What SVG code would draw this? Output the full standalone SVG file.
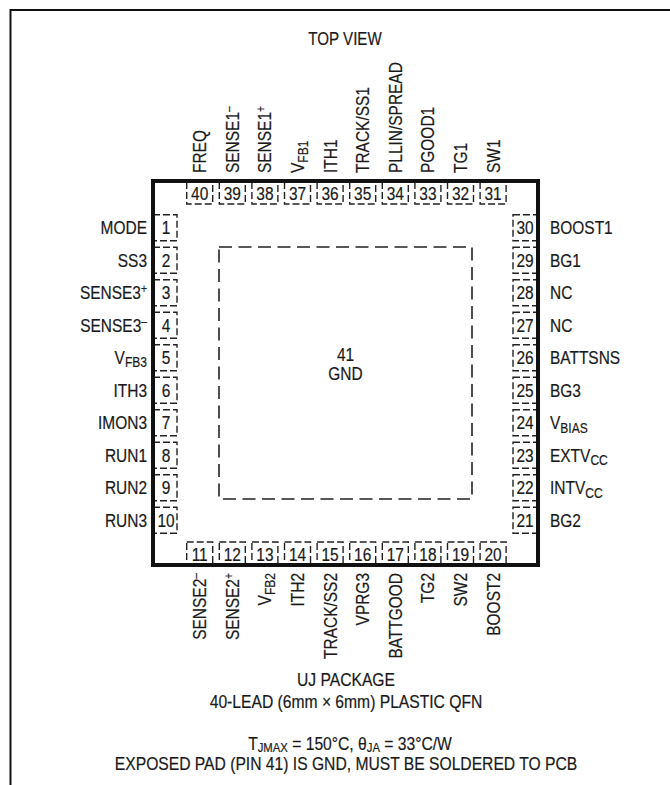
<svg xmlns="http://www.w3.org/2000/svg" width="670" height="785" viewBox="0 0 670 785">
<style>
text{font-family:"Liberation Sans",Arial,Helvetica,sans-serif;fill:#1a1a1a;font-size:18px;stroke:#1a1a1a;stroke-width:0.2}
.num{text-anchor:middle}
.end{text-anchor:end}
.mid{text-anchor:middle}
.box{fill:none;stroke:#222;stroke-width:1.4;stroke-dasharray:7 3}
.pad{fill:none;stroke:#222;stroke-width:1.6;stroke-dasharray:13 6.5}
.chip{fill:none;stroke:#111;stroke-width:4}
.frame{fill:none;stroke:#111;stroke-width:2}
.sub{font-size:14px}
.nsub{font-size:13px}
.sup{font-size:12px}
</style>
<rect width="670" height="785" fill="#fff"/>
<path class="frame" d="M10.5,785 V10 H670"/>
<text class="mid" transform="translate(345,45) scale(0.84,1)">TOP VIEW</text>

<g id="pad">
<rect class="pad" x="219" y="247" width="253" height="252"/>
<text class="mid" transform="translate(345.5,360.5) scale(0.86,1)">41</text>
<text class="mid" transform="translate(345.5,380) scale(0.86,1)">GND</text>
</g>

<!-- top pins -->
<g id="pin40"><rect class="box" x="186.7" y="181" width="26" height="23"/><text class="num" transform="translate(199.7,199.5) scale(0.86,1)">40</text><text transform="translate(206.2,173) rotate(-90) scale(0.86,1)">FREQ</text></g>
<g id="pin39"><rect class="box" x="219.3" y="181" width="26" height="23"/><text class="num" transform="translate(232.3,199.5) scale(0.86,1)">39</text><text transform="translate(238.8,173) rotate(-90) scale(0.86,1)">SENSE1<tspan class="sup" dy="-6">–</tspan></text></g>
<g id="pin38"><rect class="box" x="251.9" y="181" width="26" height="23"/><text class="num" transform="translate(264.9,199.5) scale(0.86,1)">38</text><text transform="translate(271.4,173) rotate(-90) scale(0.86,1)">SENSE1<tspan class="sup" dy="-6">+</tspan></text></g>
<g id="pin37"><rect class="box" x="284.5" y="181" width="26" height="23"/><text class="num" transform="translate(297.5,199.5) scale(0.86,1)">37</text><text transform="translate(304,173) rotate(-90) scale(0.86,1)">V<tspan class="sub" dy="3.5">FB1</tspan></text></g>
<g id="pin36"><rect class="box" x="317.1" y="181" width="26" height="23"/><text class="num" transform="translate(330.1,199.5) scale(0.86,1)">36</text><text transform="translate(336.6,173) rotate(-90) scale(0.86,1)">ITH1</text></g>
<g id="pin35"><rect class="box" x="349.7" y="181" width="26" height="23"/><text class="num" transform="translate(362.7,199.5) scale(0.86,1)">35</text><text transform="translate(369.2,173) rotate(-90) scale(0.86,1)">TRACK/SS1</text></g>
<g id="pin34"><rect class="box" x="382.3" y="181" width="26" height="23"/><text class="num" transform="translate(395.3,199.5) scale(0.86,1)">34</text><text transform="translate(401.8,173) rotate(-90) scale(0.86,1)">PLLIN/SPREAD</text></g>
<g id="pin33"><rect class="box" x="414.9" y="181" width="26" height="23"/><text class="num" transform="translate(427.9,199.5) scale(0.86,1)">33</text><text transform="translate(434.4,173) rotate(-90) scale(0.86,1)">PGOOD1</text></g>
<g id="pin32"><rect class="box" x="447.5" y="181" width="26" height="23"/><text class="num" transform="translate(460.5,199.5) scale(0.86,1)">32</text><text transform="translate(467,173) rotate(-90) scale(0.86,1)">TG1</text></g>
<g id="pin31"><rect class="box" x="480.1" y="181" width="26" height="23"/><text class="num" transform="translate(493.1,199.5) scale(0.86,1)">31</text><text transform="translate(499.6,173) rotate(-90) scale(0.86,1)">SW1</text></g>

<!-- left pins -->
<g id="pin1"><rect class="box" x="153" y="214.8" width="24" height="26"/><text class="num" transform="translate(166,234.3) scale(0.86,1)">1</text><text class="end" transform="translate(147,234.3) scale(0.86,1)">MODE</text></g>
<g id="pin2"><rect class="box" x="153" y="247.3" width="24" height="26"/><text class="num" transform="translate(166,266.8) scale(0.86,1)">2</text><text class="end" transform="translate(147,266.8) scale(0.86,1)">SS3</text></g>
<g id="pin3"><rect class="box" x="153" y="279.8" width="24" height="26"/><text class="num" transform="translate(166,299.3) scale(0.86,1)">3</text><text class="end" transform="translate(147,299.3) scale(0.86,1)">SENSE3<tspan class="sup" dy="-6">+</tspan></text></g>
<g id="pin4"><rect class="box" x="153" y="312.3" width="24" height="26"/><text class="num" transform="translate(166,331.8) scale(0.86,1)">4</text><text class="end" transform="translate(147,331.8) scale(0.86,1)">SENSE3<tspan class="sup" dy="-6">–</tspan></text></g>
<g id="pin5"><rect class="box" x="153" y="344.8" width="24" height="26"/><text class="num" transform="translate(166,364.3) scale(0.86,1)">5</text><text class="end" transform="translate(147,363.8) scale(0.86,1)">V<tspan class="sub" dy="3.5">FB3</tspan></text></g>
<g id="pin6"><rect class="box" x="153" y="377.3" width="24" height="26"/><text class="num" transform="translate(166,396.8) scale(0.86,1)">6</text><text class="end" transform="translate(147,396.8) scale(0.86,1)">ITH3</text></g>
<g id="pin7"><rect class="box" x="153" y="409.8" width="24" height="26"/><text class="num" transform="translate(166,429.3) scale(0.86,1)">7</text><text class="end" transform="translate(147,429.3) scale(0.86,1)">IMON3</text></g>
<g id="pin8"><rect class="box" x="153" y="442.3" width="24" height="26"/><text class="num" transform="translate(166,461.8) scale(0.86,1)">8</text><text class="end" transform="translate(147,461.8) scale(0.86,1)">RUN1</text></g>
<g id="pin9"><rect class="box" x="153" y="474.8" width="24" height="26"/><text class="num" transform="translate(166,494.3) scale(0.86,1)">9</text><text class="end" transform="translate(147,494.3) scale(0.86,1)">RUN2</text></g>
<g id="pin10"><rect class="box" x="153" y="507.3" width="24" height="26"/><text class="num" transform="translate(166,526.8) scale(0.86,1)">10</text><text class="end" transform="translate(147,526.8) scale(0.86,1)">RUN3</text></g>

<!-- bottom pins -->
<g id="pin11"><rect class="box" x="186.7" y="542" width="26" height="23"/><text class="num" transform="translate(199.7,560.5) scale(0.86,1)">11</text><text class="end" transform="translate(206.2,573) rotate(-90) scale(0.86,1)">SENSE2<tspan class="sup" dy="-6">–</tspan></text></g>
<g id="pin12"><rect class="box" x="219.3" y="542" width="26" height="23"/><text class="num" transform="translate(232.3,560.5) scale(0.86,1)">12</text><text class="end" transform="translate(238.8,573) rotate(-90) scale(0.86,1)">SENSE2<tspan class="sup" dy="-6">+</tspan></text></g>
<g id="pin13"><rect class="box" x="251.9" y="542" width="26" height="23"/><text class="num" transform="translate(264.9,560.5) scale(0.86,1)">13</text><text class="end" transform="translate(271.4,573) rotate(-90) scale(0.86,1)">V<tspan class="sub" dy="3.5">FB2</tspan></text></g>
<g id="pin14"><rect class="box" x="284.5" y="542" width="26" height="23"/><text class="num" transform="translate(297.5,560.5) scale(0.86,1)">14</text><text class="end" transform="translate(304,573) rotate(-90) scale(0.86,1)">ITH2</text></g>
<g id="pin15"><rect class="box" x="317.1" y="542" width="26" height="23"/><text class="num" transform="translate(330.1,560.5) scale(0.86,1)">15</text><text class="end" transform="translate(336.6,573) rotate(-90) scale(0.86,1)">TRACK/SS2</text></g>
<g id="pin16"><rect class="box" x="349.7" y="542" width="26" height="23"/><text class="num" transform="translate(362.7,560.5) scale(0.86,1)">16</text><text class="end" transform="translate(369.2,573) rotate(-90) scale(0.86,1)">VPRG3</text></g>
<g id="pin17"><rect class="box" x="382.3" y="542" width="26" height="23"/><text class="num" transform="translate(395.3,560.5) scale(0.86,1)">17</text><text class="end" transform="translate(401.8,573) rotate(-90) scale(0.86,1)">BATTGOOD</text></g>
<g id="pin18"><rect class="box" x="414.9" y="542" width="26" height="23"/><text class="num" transform="translate(427.9,560.5) scale(0.86,1)">18</text><text class="end" transform="translate(434.4,573) rotate(-90) scale(0.86,1)">TG2</text></g>
<g id="pin19"><rect class="box" x="447.5" y="542" width="26" height="23"/><text class="num" transform="translate(460.5,560.5) scale(0.86,1)">19</text><text class="end" transform="translate(467,573) rotate(-90) scale(0.86,1)">SW2</text></g>
<g id="pin20"><rect class="box" x="480.1" y="542" width="26" height="23"/><text class="num" transform="translate(493.1,560.5) scale(0.86,1)">20</text><text class="end" transform="translate(499.6,573) rotate(-90) scale(0.86,1)">BOOST2</text></g>

<!-- right pins -->
<g id="pin30"><rect class="box" x="513" y="214.8" width="25" height="26"/><text class="num" transform="translate(525,234.3) scale(0.86,1)">30</text><text transform="translate(550,234.3) scale(0.86,1)">BOOST1</text></g>
<g id="pin29"><rect class="box" x="513" y="247.3" width="25" height="26"/><text class="num" transform="translate(525,266.8) scale(0.86,1)">29</text><text transform="translate(550,266.8) scale(0.86,1)">BG1</text></g>
<g id="pin28"><rect class="box" x="513" y="279.8" width="25" height="26"/><text class="num" transform="translate(525,299.3) scale(0.86,1)">28</text><text transform="translate(550,299.3) scale(0.86,1)">NC</text></g>
<g id="pin27"><rect class="box" x="513" y="312.3" width="25" height="26"/><text class="num" transform="translate(525,331.8) scale(0.86,1)">27</text><text transform="translate(550,331.8) scale(0.86,1)">NC</text></g>
<g id="pin26"><rect class="box" x="513" y="344.8" width="25" height="26"/><text class="num" transform="translate(525,364.3) scale(0.86,1)">26</text><text transform="translate(550,364.3) scale(0.86,1)">BATTSNS</text></g>
<g id="pin25"><rect class="box" x="513" y="377.3" width="25" height="26"/><text class="num" transform="translate(525,396.8) scale(0.86,1)">25</text><text transform="translate(550,396.8) scale(0.86,1)">BG3</text></g>
<g id="pin24"><rect class="box" x="513" y="409.8" width="25" height="26"/><text class="num" transform="translate(525,429.3) scale(0.86,1)">24</text><text transform="translate(550,429.3) scale(0.86,1)">V<tspan class="sub" dy="3.5">BIAS</tspan></text></g>
<g id="pin23"><rect class="box" x="513" y="442.3" width="25" height="26"/><text class="num" transform="translate(525,461.8) scale(0.86,1)">23</text><text transform="translate(550,461.8) scale(0.86,1)">EXTV<tspan class="sub" dy="3.5">CC</tspan></text></g>
<g id="pin22"><rect class="box" x="513" y="474.8" width="25" height="26"/><text class="num" transform="translate(525,494.3) scale(0.86,1)">22</text><text transform="translate(550,494.3) scale(0.86,1)">INTV<tspan class="sub" dy="3.5">CC</tspan></text></g>
<g id="pin21"><rect class="box" x="513" y="507.3" width="25" height="26"/><text class="num" transform="translate(525,526.8) scale(0.86,1)">21</text><text transform="translate(550,526.8) scale(0.86,1)">BG2</text></g>

<g id="chip"><rect class="chip" x="153" y="181" width="385" height="384"/></g>

<g id="notes">
<text class="mid" transform="translate(346,686) scale(0.87,1)">UJ PACKAGE</text>
<text class="mid" transform="translate(346,708.3) scale(0.87,1)">40-LEAD (6mm × 6mm) PLASTIC QFN</text>
<text class="mid" transform="translate(350,749.5) scale(0.87,1)">T<tspan class="nsub" dy="2.5">JMAX</tspan><tspan dy="-2.5"> = 150°C, θ</tspan><tspan class="nsub" dy="2.5">JA</tspan><tspan dy="-2.5"> = 33°C/W</tspan></text>
<text class="mid" transform="translate(346,770) scale(0.87,1)">EXPOSED PAD (PIN 41) IS GND, MUST BE SOLDERED TO PCB</text>
</g>
</svg>
